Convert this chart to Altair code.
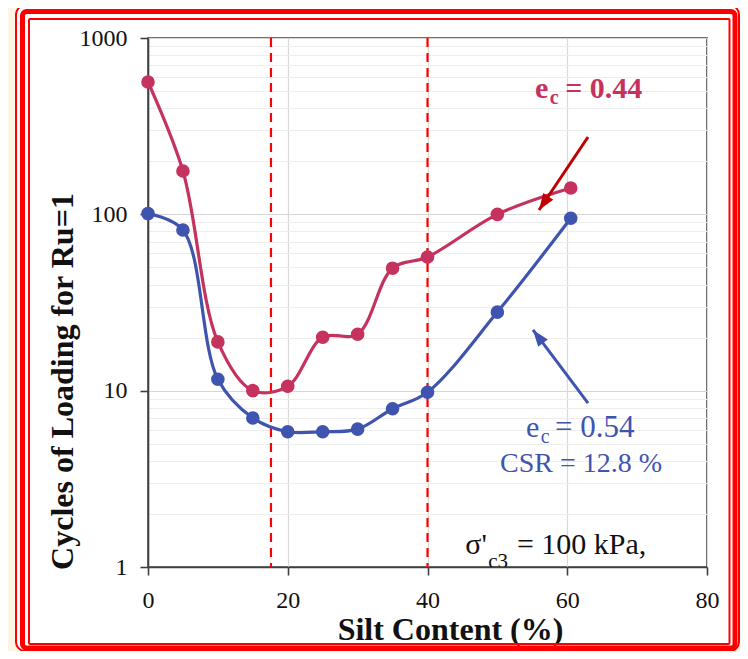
import altair as alt
import pandas as pd

# ---------------- data ----------------
silt = [0, 5, 10, 15, 20, 25, 30, 35, 40, 50, 60.5]
cycles_e044 = [563, 176, 18.9, 10.0, 10.6, 20.1, 20.9, 49.5, 57.3, 100, 141]
cycles_e054 = [101, 81.5, 11.6, 7.0, 5.85, 5.85, 6.05, 7.9, 9.8, 27.9, 95]

boundary_silt = [17.6, 40]

x_ticks = [0, 20, 40, 60, 80]
y_major = [1, 10, 100, 1000]
y_grid = [m * 10 ** k for k in range(3) for m in range(1, 10)] + [1000]

# annotation arrows (tail -> tip, data units)
arrow_x = [62.97, 62.97]
arrow_y = [274.5, 8.5]
arrow_x2 = [55.96, 55.1]
arrow_y2 = [105.8, 22.1]

# annotation text anchors (data units)
red_e = (55.4, 457)
red_c = (57.5, 423)
red_val = (59.7, 457)
blue_e = (54.1, 5.49)
blue_c = (56.2, 5.07)
blue_val = (58.25, 5.49)
blue_csr = (61.97, 3.47)
sig_main = (45.4, 1.19)
sig_sub = (48.7, 0.99)
sig_rest = (52.8, 1.19)

RED = "#C5325E"
BLUE = "#3F54AF"
ARROW_RED = "#C00000"
FONT = "Liberation Serif, Times New Roman, serif"
W, H = 559, 529

series = pd.DataFrame({
    "silt": silt * 2,
    "cycles": cycles_e044 + cycles_e054,
    "series": ["e044"] * len(silt) + ["e054"] * len(silt),
})
red_df = series[series.series == "e044"]
blue_df = series[series.series == "e054"]

xscale = alt.Scale(domain=[0, 80], nice=False)
yscale = alt.Scale(type="log", domain=[1, 1000], nice=False)

major_test = "datum.value == 1 || datum.value == 10 || datum.value == 100 || datum.value == 1000"

x_axis = alt.Axis(
    values=x_ticks, title="Silt Content (%)", grid=True, gridColor="#d9d9d9", gridWidth=1.2,
    labelBaseline="alphabetic", labelPadding=32, labelFlush=False,
    labelFont=FONT, labelFontSize=24, labelColor="#111111",
    titleFont=FONT, titleFontSize=32, titleFontWeight="bold", titleColor="#111111",
    titleX=302, titleY=72, titleBaseline="alphabetic", titleAlign="center",
)
y_axis = alt.Axis(
    values=y_grid, format="d", title="Cycles of Loading for Ru=1",
    labelExpr="(" + major_test + ") ? datum.label : ''", labelOverlap=False, labelFlush=False,
    grid=True,
    gridColor={"condition": {"test": major_test, "value": "#d6d6d6"}, "value": "#ededed"},
    gridWidth=1.2,
    tickOpacity={"condition": {"test": major_test, "value": 1}, "value": 0},
    labelPadding=13, labelFont=FONT, labelFontSize=24, labelColor="#111111",
    titleFont=FONT, titleFontSize=32, titleFontWeight="bold", titleColor="#111111",
    titleAngle=-90, titleX=-76, titleY=343, titleBaseline="alphabetic", titleAlign="center",
)

one = pd.DataFrame({"a": [0]})


def frame(x, x2, y, y2, color, sw, r):
    return alt.Chart(one).mark_rect(filled=False, stroke=color, strokeWidth=sw, cornerRadius=r).encode(
        x=alt.value(x), x2=alt.value(x2), y=alt.value(y), y2=alt.value(y2))


frames = [
    frame(-143, 602, -43.5, 624, "#FDF5E4", 20, 20),
    frame(-132, 591, -32.5, 613, "#FF0000", 2, 9),
    frame(-125.5, 587, -26.5, 610, "#FF0000", 5, 4),
    frame(-119, 581.5, -19, 606, "#FF0000", 2, 1),
]

X = lambda f: alt.X(f, scale=xscale, axis=x_axis)
Y = lambda f: alt.Y(f, scale=yscale, axis=y_axis)

dashes = alt.Chart(pd.DataFrame({"b": boundary_silt})).mark_rule(
    color="#FF0000", strokeWidth=2.2, strokeDash=[9, 6]).encode(x=X("b:Q"))

red_line = alt.Chart(red_df).mark_line(interpolate="catmull-rom", color=RED, strokeWidth=3.2).encode(
    x=X("silt:Q"), y=Y("cycles:Q"))
red_pts = alt.Chart(red_df).mark_circle(color=RED, size=185, opacity=1).encode(x=X("silt:Q"), y=Y("cycles:Q"))
blue_line = alt.Chart(blue_df).mark_line(interpolate="catmull-rom", color=BLUE, strokeWidth=3.2).encode(
    x=X("silt:Q"), y=Y("cycles:Q"))
blue_pts = alt.Chart(blue_df).mark_circle(color=BLUE, size=185, opacity=1).encode(x=X("silt:Q"), y=Y("cycles:Q"))

arrows = pd.DataFrame({"x": arrow_x, "y": arrow_y, "x2": arrow_x2, "y2": arrow_y2})
head_shape = "M0,0L0.62,1.7L-0.62,1.7Z"


def arrow(i, color, ang):
    d = arrows.iloc[[i]]
    shaft = alt.Chart(d).mark_rule(color=color, strokeWidth=3).encode(
        x=X("x:Q"), y=Y("y:Q"), x2="x2:Q", y2="y2:Q")
    head = alt.Chart(d).mark_point(shape=head_shape, filled=True, color=color, opacity=1,
                                   size=380, angle=ang, strokeWidth=0).encode(
        x=X("x2:Q"), y=Y("y2:Q"))
    return [shaft, head]


def label(pos, text, color, size, weight="normal", align="left", clip=False):
    d = pd.DataFrame({"x": [pos[0]], "y": [pos[1]], "t": [text]})
    return alt.Chart(d).mark_text(font=FONT, fontSize=size, fontWeight=weight, color=color,
                                  align=align, baseline="alphabetic", clip=clip).encode(
        x=X("x:Q"), y=Y("y:Q"), text="t:N")


texts = [
    label(red_e, "e", RED, 30, "bold"),
    label(red_c, "c", RED, 20, "bold"),
    label(red_val, "= 0.44", RED, 30, "bold"),
    label(blue_e, "e", BLUE, 30),
    label(blue_c, "c", BLUE, 20),
    label(blue_val, "= 0.54", BLUE, 31),
    label(blue_csr, "CSR = 12.8 %", BLUE, 28, align="center"),
    label(sig_main, "σ'", "#111111", 30),
    label(sig_sub, "c3", "#111111", 21, clip=True),
    label(sig_rest, "= 100 kPa,", "#111111", 30),
]

chart = alt.layer(
    *frames, dashes, red_line, blue_line, red_pts, blue_pts,
    *arrow(0, ARROW_RED, 213.9), *arrow(1, BLUE, 323), *texts,
).properties(
    width=W, height=H,
    autosize=alt.AutoSizeParams(type="none"),
    padding={"left": 140, "top": 30, "right": 33, "bottom": 84},
    background="white",
).configure_view(
    stroke="#404040", strokeWidth=1.6
).configure_axis(
    domainColor="#404040", domainWidth=1.6, tickColor="#404040", tickWidth=1.6, tickSize=8,
    labelFont=FONT, labelFontSize=24, labelColor="#111111",
    titleFont=FONT, titleFontSize=32, titleFontWeight="bold", titleColor="#111111",
)

chart.save("out.html", embed_options={"renderer": "svg", "actions": False})
